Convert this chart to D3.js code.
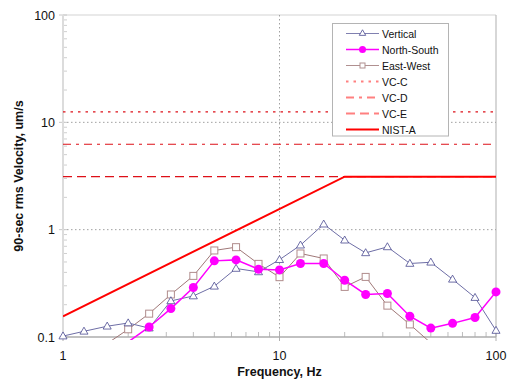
<!DOCTYPE html>
<html><head><meta charset="utf-8">
<script src="https://cdn.jsdelivr.net/npm/d3@7"></script>
<style>body{margin:0;background:#fff}svg{display:block;font-family:"Liberation Sans",Arial,sans-serif}</style>
</head><body><svg id="c" width="512" height="387"></svg>
<script>
const freqs = [1,1.25,1.6,2,2.5,3.15,4,5,6.3,8,10,12.5,16,20,25,31.5,40,50,63,80,100];
const vertical = [0.102,0.113,0.126,0.135,0.121,0.217,0.241,0.297,0.435,0.404,0.525,0.717,1.125,0.798,0.608,0.691,0.484,0.497,0.345,0.233,0.115];
const northSouth = [null,null,null,0.09,0.124,0.184,0.289,0.512,0.523,0.428,0.422,0.484,0.484,0.338,0.249,0.254,0.156,0.121,0.134,0.152,0.263];
const eastWest = [null,null,0.087,0.118,0.165,0.249,0.371,0.640,0.687,0.480,0.361,0.600,0.539,0.293,0.363,0.196,0.131,0.088,null,null,null];
const vcLevels = [{name:"VC-C",v:12.5,dash:"2.5,5"},{name:"VC-D",v:6.25,dash:"8,5,3,5"},{name:"VC-E",v:3.12,dash:"9,5"}];
const nistA = [[1,0.156],[20,3.12],[100,3.12]];
const xTicks = [1,10,100];
const yTicks = [0.1,1,10,100];

const svg = d3.select("#c");
const L=63,R=496,T=15,B=337;
const x = d3.scaleLog().domain([1,100]).range([L,R]);
const y = d3.scaleLog().domain([0.1,100]).range([B,T]);

svg.append("defs").append("clipPath").attr("id","clip").append("rect")
  .attr("x",L).attr("y",T).attr("width",R-L).attr("height",B-T+3);

svg.append("line").attr("x1",L).attr("x2",R).attr("y1",T).attr("y2",T).attr("stroke","#d4d4d4").attr("stroke-width",1.2);
svg.append("line").attr("x1",R).attr("x2",R).attr("y1",T).attr("y2",B).attr("stroke","#bdbdbd").attr("stroke-width",1.2);

[1,10].forEach(v=>svg.append("line").attr("x1",L).attr("x2",R).attr("y1",y(v)).attr("y2",y(v))
  .attr("stroke","#a0a0a0").attr("stroke-dasharray","1.5,2.5"));
svg.append("line").attr("x1",x(10)).attr("x2",x(10)).attr("y1",T).attr("y2",B)
  .attr("stroke","#a0a0a0").attr("stroke-dasharray","1.5,2.5");

const yMinor=[], xMinor=[];
for (let d of [0.1,1,10]) for (let k=2;k<=9;k++) yMinor.push(d*k);
for (let d of [1,10]) for (let k=2;k<=9;k++) xMinor.push(d*k);
svg.selectAll(".ym").data(yMinor).enter().append("line").attr("x1",L).attr("x2",L+4)
  .attr("y1",d=>y(d)).attr("y2",d=>y(d)).attr("stroke","#cfcfcf");
svg.selectAll(".xm").data(xMinor).enter().append("line").attr("y1",B).attr("y2",B-5)
  .attr("x1",d=>x(d)).attr("x2",d=>x(d)).attr("stroke","#bdbdbd");
svg.selectAll(".yM").data(yTicks).enter().append("line").attr("x1",L-4).attr("x2",L+4)
  .attr("y1",d=>y(d)).attr("y2",d=>y(d)).attr("stroke","#c8c8c8");
svg.selectAll(".xM").data(xTicks).enter().append("line").attr("y1",B-6).attr("y2",B+4)
  .attr("x1",d=>x(d)).attr("x2",d=>x(d)).attr("stroke","#b0b0b0");

svg.append("line").attr("x1",L).attr("x2",L).attr("y1",T).attr("y2",B).attr("stroke","#dcdcdc").attr("stroke-width",2);
svg.append("line").attr("x1",L-1).attr("x2",R).attr("y1",B).attr("y2",B).attr("stroke","#adadad").attr("stroke-width",1.5);

const fmt = v => String(v);
svg.selectAll(".yl").data(yTicks).enter().append("text").attr("x",55).attr("y",d=>y(d)+4.5)
  .attr("text-anchor","end").attr("font-size",12.5).attr("fill","#111").text(fmt);
svg.selectAll(".xl").data(xTicks).enter().append("text").attr("x",d=>x(d)).attr("y",360)
  .attr("text-anchor","middle").attr("font-size",12.5).attr("fill","#111").text(fmt);
svg.append("text").attr("x",x(10)).attr("y",376).attr("text-anchor","middle").attr("font-size",12.5)
  .attr("font-weight","bold").attr("fill","#111").text("Frequency, Hz");
svg.append("text").attr("transform","translate(23,176) rotate(-90)").attr("text-anchor","middle")
  .attr("font-size",12.5).attr("font-weight","bold").attr("fill","#111").text("90-sec rms Velocity, um/s");

const plot = svg.append("g").attr("clip-path","url(#clip)");
vcLevels.forEach(c=>plot.append("line").attr("x1",L).attr("x2",R).attr("y1",y(c.v)).attr("y2",y(c.v))
  .attr("stroke","#dd1018").attr("stroke-width",1.2).attr("stroke-dasharray",c.dash));
const lineG = d3.line().x(d=>x(d[0])).y(d=>y(d[1]));
plot.append("path").attr("d",lineG(nistA)).attr("fill","none").attr("stroke","#ff0000").attr("stroke-width",2);

function series(vals){ return freqs.map((f,i)=>[f,vals[i]]).filter(d=>d[1]!=null); }
const sV = series(vertical), sN = series(northSouth), sE = series(eastWest);
plot.append("path").attr("d",lineG(sE)).attr("fill","none").attr("stroke","#a07878").attr("stroke-width",1);
plot.append("path").attr("d",lineG(sV)).attr("fill","none").attr("stroke","#6e6ea6").attr("stroke-width",1);
plot.append("path").attr("d",lineG(sN)).attr("fill","none").attr("stroke","#ff00ff").attr("stroke-width",1.5);

const inR = d=>d[1]>=0.1;
const tri = d3.symbol().type(d3.symbolTriangle).size(28);
svg.selectAll(".sq").data(sE.filter(inR)).enter().append("rect")
  .attr("x",d=>x(d[0])-3.5).attr("y",d=>y(d[1])-3.5).attr("width",7).attr("height",7)
  .attr("fill","#fff").attr("stroke","#b08c8c").attr("stroke-width",1);
svg.selectAll(".tr").data(sV.filter(inR)).enter().append("path").attr("d",tri)
  .attr("transform",d=>`translate(${x(d[0])},${y(d[1])+0.5})`)
  .attr("fill","#fff").attr("stroke","#4a4a90").attr("stroke-width",0.8);
svg.selectAll(".ci").data(sN.filter(inR)).enter().append("circle")
  .attr("cx",d=>x(d[0])).attr("cy",d=>y(d[1])).attr("r",4.5).attr("fill","#ff00ff");

const lg = svg.append("g");
lg.append("rect").attr("x",332.5).attr("y",23.5).attr("width",116).attr("height",112.5)
  .attr("fill","#fff").attr("stroke","#b4b4b4");
const items = [
  {name:"Vertical",type:"V"},{name:"North-South",type:"N"},{name:"East-West",type:"E"},
  {name:vcLevels[0].name,type:"C",dash:vcLevels[0].dash},{name:vcLevels[1].name,type:"C",dash:vcLevels[1].dash},
  {name:vcLevels[2].name,type:"C",dash:vcLevels[2].dash},{name:"NIST-A",type:"A"}];
items.forEach((it,i)=>{
  const cy = 33.5 + i*16, x1=346, x2=379, cx=(x1+x2)/2;
  const ln = lg.append("line").attr("x1",x1).attr("x2",x2).attr("y1",cy).attr("y2",cy);
  if(it.type==="V"){ ln.attr("stroke","#8080b0");
    lg.append("path").attr("d",d3.symbol().type(d3.symbolTriangle).size(18)).attr("transform",`translate(${cx},${cy})`).attr("fill","#fff").attr("stroke","#4a4a90").attr("stroke-width",0.8);}
  else if(it.type==="N"){ ln.attr("stroke","#ff00ff").attr("stroke-width",1.5);
    lg.append("circle").attr("cx",cx).attr("cy",cy).attr("r",3.5).attr("fill","#ff00ff");}
  else if(it.type==="E"){ ln.attr("stroke","#b09090");
    lg.append("rect").attr("x",cx-2.5).attr("y",cy-2.5).attr("width",5).attr("height",5).attr("fill","#fff").attr("stroke","#b09090");}
  else if(it.type==="C"){ ln.attr("stroke","#ff8080").attr("stroke-width",2).attr("stroke-dasharray",it.dash);}
  else { ln.attr("stroke","#ff0000").attr("stroke-width",2);}
  lg.append("text").attr("x",382).attr("y",cy+4).attr("font-size",10.5).attr("fill","#111").text(it.name);
});
</script></body></html>
